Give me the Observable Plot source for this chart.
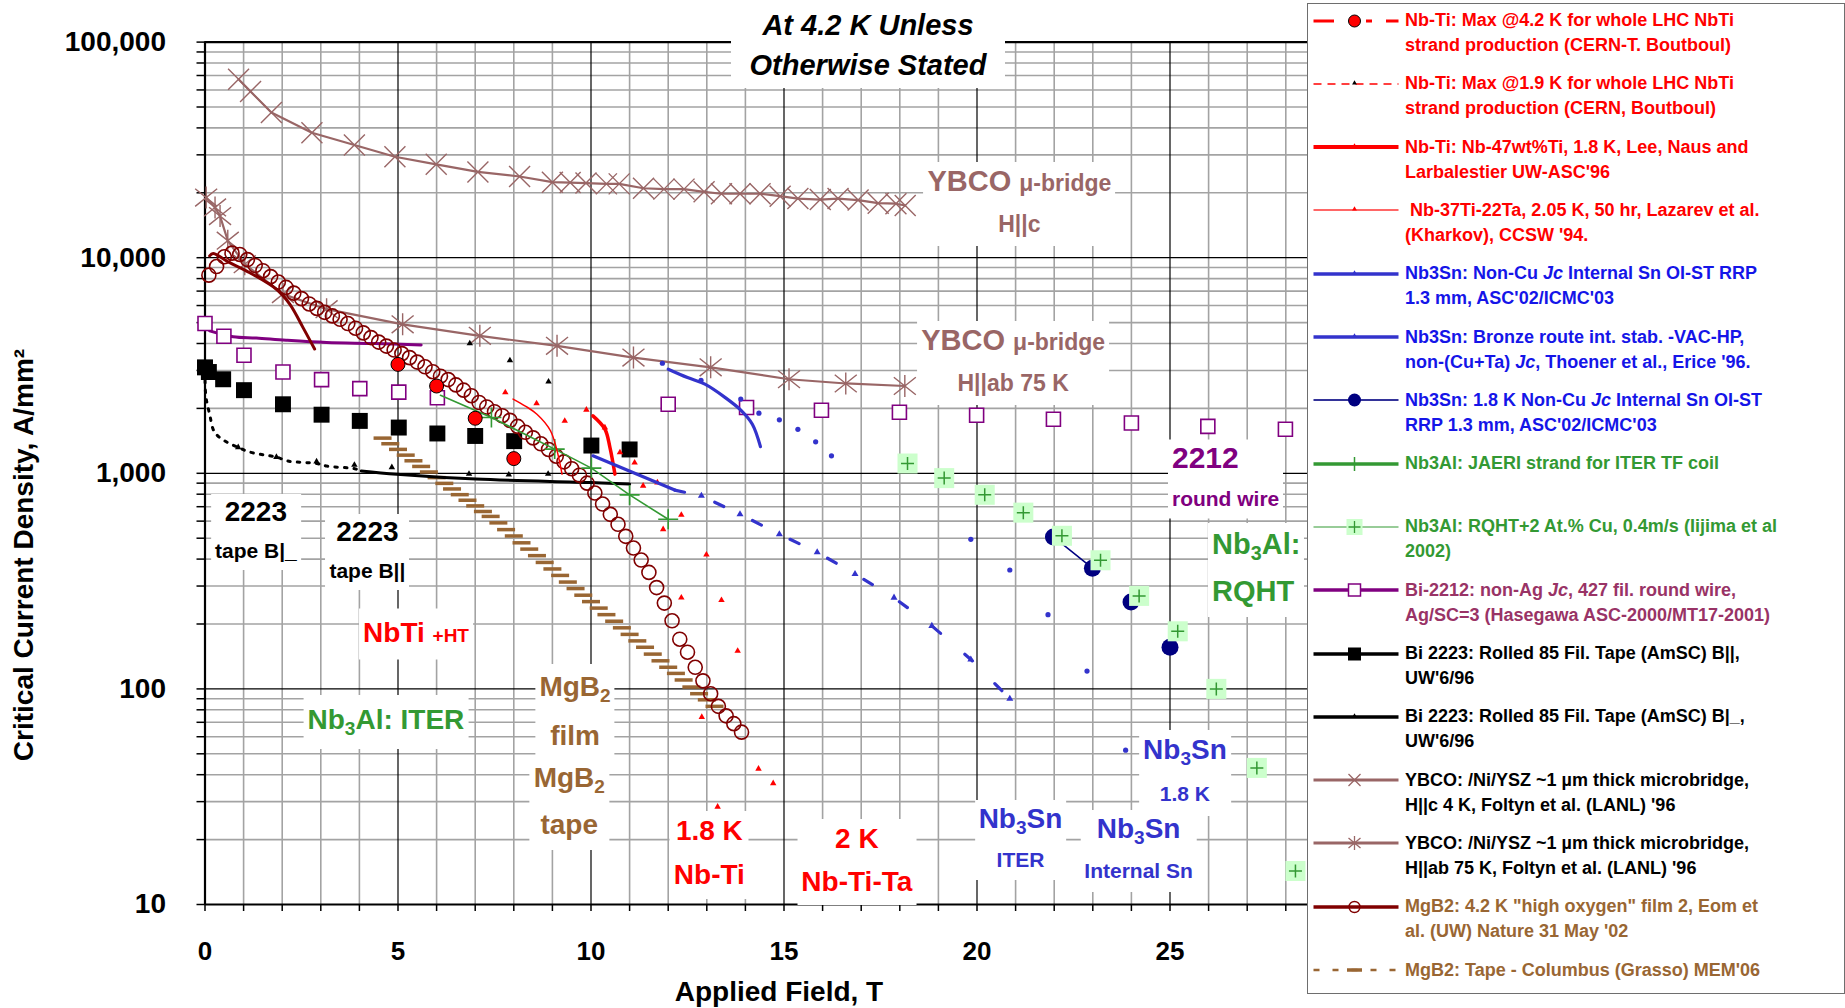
<!DOCTYPE html>
<html lang="en">
<head>
<meta charset="utf-8">
<title>Critical current density vs applied field</title>
<script src="https://cdn.jsdelivr.net/npm/d3@7"></script>
<script src="https://cdn.jsdelivr.net/npm/@observablehq/plot@0.6"></script>
<style>
  html, body { margin: 0; padding: 0; background: #fff; }
  #chart { position: relative; width: 1845px; height: 1008px; overflow: hidden;
           font-family: "Liberation Sans", Arial, Helvetica, sans-serif; }
  #chart > svg { position: absolute; left: 0; top: 0; }
  .note { position: absolute; background: #fff; font-weight: bold; white-space: nowrap;
          text-align: center; padding: 0 4px; }
  .note.left { text-align: left; }
  sub { font-size: 0.68em; vertical-align: -0.3em; line-height: 0; }
  .title { position: absolute; left: 731px; top: 0; width: 274px; height: 88px; background: #fff;
           text-align: center; font: italic bold 29px/40px "Liberation Sans", Arial, sans-serif;
           padding-top: 5px; box-sizing: border-box; }
  .ylabel { position: absolute; left: 24px; top: 555px; transform: translate(-50%, -50%) rotate(-90deg);
            font: bold 28px "Liberation Sans", Arial, sans-serif; white-space: nowrap; }
  .xlabel { position: absolute; left: 779px; top: 992px; transform: translate(-50%, -50%);
            font: bold 28px "Liberation Sans", Arial, sans-serif; white-space: nowrap; }
  .legend { position: absolute; left: 1307px; top: 3px; width: 538px; height: 991px; box-sizing: border-box;
            border: 1.5px solid #6e6e6e; background: #fff; }
  .entry-text { position: absolute; left: 97px; font: bold 18px/25px "Liberation Sans", Arial, sans-serif;
                white-space: nowrap; }
  .entry-key { position: absolute; left: 2px; width: 92px; height: 24px; overflow: visible; }
</style>
</head>
<body>
<div id="chart"></div>
<script>
// ---------------- Axis ticks ----------------
const fieldTickValues = [0, 5, 10, 15, 20, 25];
const fieldTickLabels = ["0", "5", "10", "15", "20", "25"];
const jcTickValues = [10, 100, 1000, 10000, 100000];
const jcTickLabels = ["10", "100", "1,000", "10,000", "100,000"];

// ---------------- Data (field in T, Jc in A/mm²) ----------------
// YBCO microbridge, H||c, 4 K
const ybcoCField = [0.87, 1.18, 1.72, 2.77, 3.87, 4.92, 5.99, 7.07, 8.15, 9.0, 9.46, 9.87, 10.4, 10.73, 11.36, 11.89, 12.41, 12.93, 13.38, 13.86, 14.38, 14.9, 15.36, 15.94, 16.4, 16.92, 17.44, 17.9, 18.14];
const ybcoCJc = [67300, 59000, 47100, 38000, 33300, 29400, 27100, 25000, 23800, 22400, 22300, 22200, 22000, 22000, 21000, 20800, 20800, 20200, 19800, 19800, 19800, 19300, 18800, 18600, 18800, 18500, 17900, 17800, 17460];

// YBCO microbridge, H||ab, 75 K
const ybcoAbField = [0.03, 0.26, 0.39, 0.59, 1.03, 2.02, 3.15, 5.12, 7.12, 9.12, 11.1, 13.1, 15.13, 16.6, 18.13];
const ybcoAbJc = [19000, 17100, 15600, 12000, 9330, 6780, 5770, 4910, 4340, 3900, 3440, 3100, 2730, 2610, 2540];

// MgB2 "high oxygen" film, 4.2 K (circles)
const mgb2FilmField = [0.1, 0.3, 0.5, 0.7, 0.9, 1.1, 1.3, 1.5, 1.7, 1.9, 2.1, 2.3, 2.5, 2.7, 2.9, 3.1, 3.3, 3.5, 3.7, 3.9, 4.1, 4.3, 4.5, 4.7, 4.9, 5.1, 5.3, 5.5, 5.7, 5.9, 6.1, 6.3, 6.5, 6.7, 6.9, 7.1, 7.3, 7.5, 7.7, 7.9, 8.1, 8.3, 8.5, 8.7, 8.9, 9.1, 9.3, 9.5, 9.7, 9.9, 10.1, 10.3, 10.5, 10.7, 10.9, 11.1, 11.3, 11.5, 11.7, 11.9, 12.1, 12.3, 12.5, 12.7, 12.9, 13.1, 13.3, 13.5, 13.7, 13.9];
const mgb2FilmJc = [8300, 9100, 10100, 10500, 10350, 9800, 9200, 8700, 8170, 7710, 7280, 6850, 6460, 6100, 5820, 5580, 5370, 5180, 4950, 4710, 4480, 4260, 4060, 3890, 3730, 3590, 3440, 3280, 3120, 2960, 2820, 2720, 2570, 2430, 2290, 2130, 2030, 1930, 1850, 1760, 1650, 1550, 1460, 1370, 1290, 1200, 1130, 1050, 980, 900, 810, 720, 645, 580, 510, 450, 396, 347, 295, 250, 207, 170, 148, 126, 109, 95, 83, 75, 69, 63];
// MgB2 film trace
const mgb2TraceField = [0.12, 0.21, 0.64, 1.07, 1.85, 2.2, 2.54, 2.84];
const mgb2TraceJc = [10200, 10450, 9480, 8690, 7140, 6080, 4740, 3770];

// MgB2 tape, Columbus
const mgb2TapeField = [4.6, 4.8, 5.0, 5.2, 5.4, 5.6, 5.8, 6.0, 6.2, 6.4, 6.6, 6.8, 7.0, 7.2, 7.4, 7.6, 7.8, 8.0, 8.2, 8.4, 8.6, 8.8, 9.0, 9.2, 9.4, 9.6, 9.8, 10.0, 10.2, 10.4, 10.6, 10.8, 11.0, 11.2, 11.4, 11.6, 11.8, 12.0, 12.2, 12.4, 12.6, 12.8, 13.0, 13.2];
const mgb2TapeJc = [1456, 1371, 1291, 1214, 1143, 1076, 1014, 955, 898, 846, 796, 750, 706, 665, 631, 589, 548, 512, 476, 445, 415, 386, 360, 336, 313, 292, 272, 254, 237, 221, 206, 192, 179, 167, 156, 145, 135, 126, 118, 110, 102, 95, 89, 83];

// Bi-2212 round wire
const bi2212Field = [0, 0.49, 1.01, 2.02, 3.02, 4.01, 5.02, 6.02, 12.0, 14.03, 15.97, 17.99, 19.99, 21.98, 24.0, 25.98, 27.99];
const bi2212Jc = [4950, 4320, 3530, 2950, 2720, 2470, 2380, 2240, 2090, 2020, 1960, 1920, 1860, 1780, 1710, 1650, 1600];
const bi2212TraceField = [0.12, 0.73, 1.33, 2.1, 3.15, 4.4, 5.6];
const bi2212TraceJc = [4580, 4300, 4240, 4140, 4040, 4000, 3940];

// Bi-2223 tape, B||
const bi2223ParField = [0, 0.1, 0.47, 1.01, 2.02, 3.02, 4.01, 5.02, 6.02, 7.0, 8.01, 10.01, 11.0];
const bi2223ParJc = [3100, 2950, 2730, 2430, 2090, 1870, 1750, 1630, 1530, 1490, 1410, 1345, 1290];

// Bi-2223 tape, B perpendicular
const bi2223PerpField = [0, 0.02, 0.12, 0.25, 0.55, 0.86, 1.12, 1.5, 1.85, 2.15, 2.9, 3.15, 3.88, 4.05, 4.97, 7.02, 9.99, 11.0];
const bi2223PerpJc = [3300, 2300, 1880, 1550, 1400, 1320, 1260, 1220, 1190, 1140, 1110, 1080, 1050, 1025, 990, 940, 906, 891];
const bi2223PerpMarkField = [0.86, 1.85, 2.89, 3.87, 4.84, 6.84, 7.87, 8.89];
const bi2223PerpMarkJc = [1320, 1190, 1134, 1094, 1066, 993, 986, 993];

// Nb-Ti, LHC strand production maxima
const lhc42Field = [5, 6, 7, 8];
const lhc42Jc = [3200, 2540, 1800, 1170];
const lhc19Field = [6.86, 7.9, 8.9];
const lhc19Jc = [4000, 3340, 2660];

// Nb-47wt%Ti, 1.8 K
const nbti18Field = [10.05, 10.36, 10.49, 10.62];
const nbti18Jc = [1846, 1603, 1320, 991];
const nbti18MarkField = [9.32, 10.75, 11.35, 11.87, 12.34, 12.87, 13.28];
const nbti18MarkJc = [1750, 1250, 875, 550, 265, 74, 28.4];

// Nb-37Ti-22Ta, 2.05 K
const nbtitaField = [7.98, 8.3, 8.6, 8.95, 9.25];
const nbtitaJc = [2210, 2050, 1880, 1575, 991];
const nbtitaMarkField = [7.78, 8.59, 9.88, 10.36, 11.13, 11.72, 12.34, 12.99, 13.38, 13.8, 14.34, 14.72];
const nbtitaMarkJc = [2370, 2110, 1970, 1630, 1120, 906, 641, 419, 258, 150, 42.6, 36.5];

// Nb3Sn internal Sn RRP, 4.2 K
const rrpField = [12.0, 12.5, 12.95, 13.47, 13.9, 14.18, 14.39];
const rrpJc = [3040, 2780, 2590, 2250, 1950, 1690, 1330];
const rrpMarkField = [11.85, 12.85, 13.88, 14.35, 14.88, 15.36, 15.82, 16.23, 19.84, 20.85, 21.84, 22.85, 23.85];
const rrpMarkJc = [3240, 2700, 2210, 1900, 1770, 1600, 1400, 1205, 494, 356, 221, 121, 52];

// Nb3Sn bronze route
const bronzeField = [10.05, 12.17, 12.86, 13.86, 14.88, 15.86, 16.84, 17.85, 18.83, 19.84, 20.85];
const bronzeJc = [1205, 836, 786, 646, 522, 430, 341, 265, 196, 137, 90];

// Nb3Sn internal Sn RRP, 1.8 K
const rrp18Field = [21.98, 22.99, 23.99, 25.0];
const rrp18Jc = [507, 363, 253, 156];

// Nb3Al JAERI strand
const jaeriField = [6.1, 7.42, 9.06, 10.01, 11.0, 12.0];
const jaeriJc = [2300, 1815, 1295, 1057, 794, 612];

// Nb3Al RQHT + 2 at.% Cu
const rqhtField = [18.2, 19.15, 20.2, 21.2, 22.2, 23.2, 24.2, 25.2, 26.2, 27.25, 28.25];
const rqhtJc = [1110, 950, 795, 657, 513, 395, 270, 185, 100, 43, 14.3];

// ---------------- Helpers ----------------
const pairs = (xs, ys) => xs.map((field, i) => ({field, jc: ys[i]}));
const XY = {x: "field", y: "jc"};

const C = {
  red: "#ff0000", blue: "#3333cc", navy: "#000080", green: "#339933", lightGreen: "#ccffcc",
  purple: "#800080", ybco: "#996666", darkRed: "#800000", brown: "#996633", grid: "#a3a3a3"
};

// stroke-only marker shapes
const shape = (draw) => ({draw(ctx, size) { draw(ctx, Math.sqrt(size / Math.PI)); }});
const timesSym = shape((c, r) => { c.moveTo(-r, -r); c.lineTo(r, r); c.moveTo(r, -r); c.lineTo(-r, r); });
const asteriskSym = shape((c, r) => {
  c.moveTo(-r, -r * 0.8); c.lineTo(r, r * 0.8); c.moveTo(r, -r * 0.8); c.lineTo(-r, r * 0.8);
  c.moveTo(0, -r); c.lineTo(0, r);
});
const plusSym = shape((c, r) => { c.moveTo(-r, 0); c.lineTo(r, 0); c.moveTo(0, -r); c.lineTo(0, r); });
const dashSym = shape((c, r) => { c.moveTo(-r, 0); c.lineTo(r, 0); });

const ybcoC = pairs(ybcoCField, ybcoCJc);
const ybcoAb = pairs(ybcoAbField, ybcoAbJc);
const mgb2Film = pairs(mgb2FilmField, mgb2FilmJc);
const mgb2Trace = pairs(mgb2TraceField, mgb2TraceJc);
const mgb2Tape = pairs(mgb2TapeField, mgb2TapeJc);
const bi2212 = pairs(bi2212Field, bi2212Jc);
const bi2212Trace = pairs(bi2212TraceField, bi2212TraceJc);
const bi2223Par = pairs(bi2223ParField, bi2223ParJc);
const bi2223Perp = pairs(bi2223PerpField, bi2223PerpJc);
const bi2223PerpMarks = pairs(bi2223PerpMarkField, bi2223PerpMarkJc);
const lhc42 = pairs(lhc42Field, lhc42Jc);
const lhc19 = pairs(lhc19Field, lhc19Jc);
const nbti18 = pairs(nbti18Field, nbti18Jc);
const nbti18Marks = pairs(nbti18MarkField, nbti18MarkJc);
const nbtita = pairs(nbtitaField, nbtitaJc);
const nbtitaMarks = pairs(nbtitaMarkField, nbtitaMarkJc);
const rrp = pairs(rrpField, rrpJc);
const rrpMarks = pairs(rrpMarkField, rrpMarkJc);
const bronze = pairs(bronzeField, bronzeJc);
const rrp18 = pairs(rrp18Field, rrp18Jc);
const jaeri = pairs(jaeriField, jaeriJc);
const rqht = pairs(rqhtField, rqhtJc);

const fieldMinor = d3.range(1, 31).filter(v => v % 5 !== 0);
const jcMinor = jcTickValues.slice(0, -1).flatMap(d => d3.range(2, 10).map(k => k * d));

// ---------------- Chart ----------------
const chart = Plot.plot({
  width: 1845,
  height: 1008,
  marginLeft: 204.5,
  marginRight: 482.5,
  marginTop: 41.6,
  marginBottom: 104,
  x: {domain: [0, 30], axis: null},
  y: {type: "log", domain: [10, 100000], axis: null},
  style: {fontFamily: '"Liberation Sans", Arial, sans-serif', background: "none", overflow: "visible"},
  marks: [
    // grid
    Plot.ruleX(fieldMinor, {stroke: C.grid, strokeWidth: 1.6}),
    Plot.ruleY(jcMinor, {stroke: C.grid, strokeWidth: 1.6}),
    Plot.ruleX(fieldTickValues, {stroke: "#000", strokeWidth: 1.2}),
    Plot.ruleY(jcTickValues, {stroke: "#000", strokeWidth: 1.2}),
    Plot.ruleX([0], {stroke: "#000", strokeWidth: 2.2}),
    Plot.ruleY([10, 100000], {stroke: "#000", strokeWidth: 2.2}),
    // axis ticks and labels
    Plot.axisY({ticks: [...jcMinor, ...jcTickValues], tickSize: 8, tickFormat: () => "", label: null, strokeWidth: 1.5}),
    Plot.axisX({ticks: d3.range(0, 29), tickSize: 7, tickFormat: () => "", label: null, strokeWidth: 1.5}),
    Plot.text(jcTickValues, {x: 0, y: d => d, text: (d, i) => jcTickLabels[i], dx: -39, textAnchor: "end", fontSize: 28, fontWeight: "bold", fill: "#000"}),
    Plot.text(fieldTickValues, {x: d => d, y: 10, text: (d, i) => fieldTickLabels[i], dy: 47, fontSize: 26, fontWeight: "bold", fill: "#000"}),

    // Bi-2212
    Plot.line(bi2212Trace, {...XY, stroke: C.purple, strokeWidth: 3, curve: "catmull-rom"}),
    // YBCO
    Plot.line(ybcoC, {...XY, stroke: C.ybco, strokeWidth: 2.2}),
    Plot.line(ybcoAb, {...XY, stroke: C.ybco, strokeWidth: 2.2}),
    Plot.dot(ybcoC, {...XY, symbol: timesSym, r: 10.5, stroke: C.ybco, strokeWidth: 1.4, fill: "none"}),
    Plot.dot(ybcoAb, {...XY, symbol: asteriskSym, r: 11, stroke: C.ybco, strokeWidth: 1.4, fill: "none"}),
    // MgB2 tape
    Plot.dot(mgb2Tape, {...XY, symbol: dashSym, r: 9, stroke: C.brown, strokeWidth: 3.5, fill: "none"}),
    // Bi-2223 B perpendicular
    Plot.line(bi2223Perp.filter(d => d.field <= 4.05), {...XY, stroke: "#000", strokeWidth: 3, strokeDasharray: "2.5,7", curve: "catmull-rom"}),
    Plot.line(bi2223Perp.filter(d => d.field >= 4.05), {...XY, stroke: "#000", strokeWidth: 3, curve: "catmull-rom"}),
    Plot.dot(bi2223PerpMarks, {...XY, symbol: "triangle", r: 2.4, fill: "#000"}),
    // Bi-2212 squares, Bi-2223 B|| squares
    Plot.dot(bi2212, {...XY, symbol: "square", r: 7.9, fill: "#fff", stroke: C.purple, strokeWidth: 1.6}),
    Plot.dot(bi2223Par, {...XY, symbol: "square", r: 9, fill: "#000"}),
    // MgB2 film
    Plot.line(mgb2Trace, {...XY, stroke: C.darkRed, strokeWidth: 3, curve: "catmull-rom"}),
    Plot.dot(mgb2Film, {...XY, r: 7, stroke: C.darkRed, strokeWidth: 1.6, fill: "none"}),
    // Nb3Al JAERI
    Plot.line(jaeri, {...XY, stroke: C.green, strokeWidth: 1.6}),
    Plot.dot(jaeri.slice(1), {...XY, symbol: plusSym, r: 10, stroke: C.green, strokeWidth: 1.6, fill: "none"}),
    // Nb-Ti
    Plot.line(nbtita, {...XY, stroke: C.red, strokeWidth: 1.5, curve: "catmull-rom"}),
    Plot.line(nbti18, {...XY, stroke: C.red, strokeWidth: 3.5, curve: "catmull-rom"}),
    Plot.dot(nbtitaMarks, {...XY, symbol: "triangle", r: 2.4, fill: C.red}),
    Plot.dot(nbti18Marks, {...XY, symbol: "triangle", r: 2.4, fill: C.red}),
    Plot.dot(lhc19, {...XY, symbol: "triangle", r: 2.4, fill: "#000"}),
    Plot.dot(lhc42, {...XY, r: 7, fill: C.red, stroke: "#000", strokeWidth: 1}),
    // Nb3Sn
    Plot.line(rrp, {...XY, stroke: C.blue, strokeWidth: 3.2, curve: "catmull-rom"}),
    Plot.dot(rrpMarks, {...XY, r: 2.6, fill: C.blue}),
    Plot.line(bronze.slice(0, 2), {...XY, stroke: C.blue, strokeWidth: 3.2}),
    Plot.line(bronze.slice(1), {...XY, stroke: C.blue, strokeWidth: 3.2, strokeDasharray: "10,32"}),
    Plot.dot(bronze.slice(2), {...XY, symbol: "triangle", r: 2.6, fill: C.blue}),
    Plot.line(rrp18.slice(0, 2), {...XY, stroke: C.navy, strokeWidth: 1.5}),
    Plot.dot(rrp18, {...XY, r: 8.5, fill: C.navy}),
    // Nb3Al RQHT
    Plot.dot(rqht, {...XY, symbol: "square", r: 11.3, fill: C.lightGreen}),
    Plot.dot(rqht, {...XY, symbol: plusSym, r: 6.5, stroke: C.green, strokeWidth: 1.5, fill: "none"})
  ]
});

const root = document.getElementById("chart");
root.appendChild(chart);

// ---------------- Annotations ----------------
const t = (text, size) => `<span style="font-size:${size}px">${text}</span>`;
const notes = [
  {x: 21.11, y: 17650, color: C.ybco, lh: 39, lines: [t("YBCO ", 29) + t("μ-bridge", 23), t("H||c", 23)]},
  {x: 20.95, y: 3230, color: C.ybco, lh: 38, lines: [t("YBCO ", 29) + t("μ-bridge", 23), t("H||ab 75 K", 23)]},
  {x: 24.96, y: 935, color: C.purple, lh: 36, anchor: "start", lines: [t("2212", 30), t("round wire", 21)]},
  {x: 26.0, y: 354, color: C.green, lh: 43, anchor: "start", lines: [t("Nb<sub>3</sub>Al:", 29), t("RQHT", 29)]},
  {x: 25.4, y: 40.5, color: C.blue, lh: 40, lines: [t("Nb<sub>3</sub>Sn", 28), t("1.8 K", 21)]},
  {x: 21.14, y: 19.9, color: C.blue, lh: 37, lines: [t("Nb<sub>3</sub>Sn", 28), t("ITER", 21)]},
  {x: 24.2, y: 17.6, color: C.blue, lh: 38, lines: [t("Nb<sub>3</sub>Sn", 28), t("Internal Sn", 21)]},
  {x: 16.9, y: 15.7, color: C.red, lh: 39, lines: [t("2 K", 28), t("Nb-Ti-Ta", 28)]},
  {x: 13.08, y: 16.9, color: C.red, lh: 40, lines: [t("1.8 K", 28), t("Nb-Ti", 28)]},
  {x: 9.6, y: 77.3, color: C.brown, lh: 45, lines: [t("MgB<sub>2</sub>", 28), t("film", 28)]},
  {x: 9.45, y: 29.3, color: C.brown, lh: 43, lines: [t("MgB<sub>2</sub>", 28), t("tape", 28)]},
  {x: 4.70, y: 69.8, color: C.green, lh: 50, lines: [t("Nb<sub>3</sub>Al: ITER", 28)]},
  {x: 5.48, y: 178.6, color: C.red, lh: 47, lines: [t("NbTi ", 28) + t("+HT", 19)]},
  {x: 1.33, y: 531, color: "#000", lh: 35, lines: [t("2223", 28), t("tape B|_", 21)]},
  {x: 4.22, y: 431, color: "#000", lh: 35, lines: [t("2223", 28), t("tape B||", 21)]}
];
const sx = chart.scale("x"), sy = chart.scale("y");
for (const n of notes) {
  const el = document.createElement("div");
  el.className = "note" + (n.anchor === "start" ? " left" : "");
  el.style.color = n.color;
  el.style.left = sx.apply(n.x) + "px";
  el.style.top = sy.apply(n.y) + "px";
  el.style.transform = n.anchor === "start" ? "translate(0,-50%)" : "translate(-50%,-50%)";
  el.innerHTML = n.lines.map(l => `<div style="line-height:${n.lh}px">${l}</div>`).join("");
  root.appendChild(el);
}

// ---------------- Titles ----------------
const title = document.createElement("div");
title.className = "title";
title.innerHTML = "<div>At 4.2 K Unless</div><div>Otherwise Stated</div>";
root.appendChild(title);

const ylab = document.createElement("div");
ylab.className = "ylabel";
ylab.textContent = "Critical Current Density, A/mm²";
root.appendChild(ylab);

const xlab = document.createElement("div");
xlab.className = "xlabel";
xlab.textContent = "Applied Field, T";
root.appendChild(xlab);

// ---------------- Legend ----------------
const keyLine = (c, w, dash) => `<path d="M3.5,12H88.5" stroke="${c}" stroke-width="${w}" fill="none"${dash ? ` stroke-dasharray="${dash}"` : ""}/>`;
const tinyTri = c => `<path d="M44.5,8.3l2.4,4.2h-4.8z" fill="${c}"/>`;
const legendBlue = "#1515e8";
const legendItems = [
  {color: C.red, lines: ["Nb-Ti: Max @4.2 K for whole LHC NbTi", "strand production (CERN-T. Boutboul)"],
   key: `<path d="M3.5,12H24M56,12H62M76,12H88.5" stroke="${C.red}" stroke-width="3"/><circle cx="44.5" cy="12" r="6" fill="${C.red}" stroke="#000" stroke-width="1"/>`},
  {color: C.red, lines: ["Nb-Ti: Max @1.9 K for whole LHC NbTi", "strand production (CERN, Boutboul)"],
   key: keyLine(C.red, 1.5, "8,6") + tinyTri("#000")},
  {color: C.red, lines: ["Nb-Ti: Nb-47wt%Ti, 1.8 K, Lee, Naus and", "Larbalestier UW-ASC'96"],
   key: keyLine(C.red, 4) + tinyTri(C.red)},
  {color: C.red, lines: ["&nbsp;Nb-37Ti-22Ta, 2.05 K, 50 hr, Lazarev et al.", "(Kharkov), CCSW '94."],
   key: keyLine("#ff3333", 1.5) + tinyTri(C.red)},
  {color: legendBlue, lines: ["Nb3Sn: Non-Cu <i>Jc</i> Internal Sn OI-ST RRP", "1.3 mm, ASC'02/ICMC'03"],
   key: keyLine(C.blue, 3.5) + tinyTri(C.blue)},
  {color: legendBlue, lines: ["Nb3Sn: Bronze route int. stab. -VAC-HP,", "non-(Cu+Ta) <i>Jc</i>, Thoener et al., Erice '96."],
   key: keyLine(C.blue, 3.5) + tinyTri(C.blue)},
  {color: legendBlue, lines: ["Nb3Sn: 1.8 K Non-Cu <i>Jc</i> Internal Sn OI-ST", "RRP 1.3 mm, ASC'02/ICMC'03"],
   key: keyLine("#333399", 2) + `<circle cx="44.5" cy="12" r="6.5" fill="${C.navy}"/>`},
  {color: C.green, lines: ["Nb3Al: JAERI strand for ITER TF coil"],
   key: keyLine(C.green, 3.5) + `<path d="M44.5,5V19" stroke="${C.green}" stroke-width="1.5"/>`},
  {color: C.green, lines: ["Nb3Al: RQHT+2 At.% Cu, 0.4m/s (Iijima et al", "2002)"],
   key: keyLine(C.green, 1.2) + `<rect x="36.5" y="4" width="16" height="16" fill="${C.lightGreen}"/><path d="M38.5,12H50.5M44.5,6V18" stroke="${C.green}" stroke-width="1.3"/>`},
  {color: "#993366", lines: ["Bi-2212: non-Ag <i>Jc</i>, 427 fil. round wire,", "Ag/SC=3 (Hasegawa ASC-2000/MT17-2001)"],
   key: keyLine(C.purple, 3.5) + `<rect x="38.5" y="6" width="12" height="12" fill="#fff" stroke="${C.purple}" stroke-width="1.5"/>`},
  {color: "#000", lines: ["Bi 2223: Rolled 85 Fil. Tape (AmSC) B||,", "UW'6/96"],
   key: keyLine("#000", 3.5) + `<rect x="38" y="5.5" width="13" height="13" fill="#000"/>`},
  {color: "#000", lines: ["Bi 2223: Rolled 85 Fil. Tape (AmSC) B|_,", "UW'6/96"],
   key: keyLine("#000", 3.5) + tinyTri("#000")},
  {color: "#000", lines: ["YBCO: /Ni/YSZ ~1 µm thick microbridge,", "H||c 4 K, Foltyn et al. (LANL) '96"],
   key: keyLine(C.ybco, 3) + `<path d="M38.5,6L50.5,18M50.5,6L38.5,18" stroke="${C.ybco}" stroke-width="1.3"/>`},
  {color: "#000", lines: ["YBCO: /Ni/YSZ ~1 µm thick microbridge,", "H||ab 75 K, Foltyn et al. (LANL) '96"],
   key: keyLine(C.ybco, 3) + `<path d="M38.5,7L50.5,17M50.5,7L38.5,17M44.5,5V19" stroke="${C.ybco}" stroke-width="1.3"/>`},
  {color: C.brown, lines: ["MgB2: 4.2 K \"high oxygen\" film 2, Eom et", "al. (UW) Nature 31 May '02"],
   key: keyLine(C.darkRed, 3.5) + `<circle cx="44.5" cy="12" r="5.5" fill="none" stroke="${C.darkRed}" stroke-width="1.4"/>`},
  {color: C.brown, lines: ["MgB2: Tape - Columbus (Grasso) MEM'06"],
   key: keyLine(C.brown, 2.5, "6,13") + `<path d="M37,12H52" stroke="${C.brown}" stroke-width="3.5"/>`}
];

const legend = document.createElement("div");
legend.className = "legend";
legendItems.forEach((item, i) => {
  const center = 21 + 63.3 * i - 4.5;
  const key = document.createElement("div");
  key.className = "entry-key";
  key.style.top = (center - 12) + "px";
  key.innerHTML = `<svg width="92" height="24" viewBox="0 0 92 24" style="overflow:visible">${item.key}</svg>`;
  legend.appendChild(key);
  const text = document.createElement("div");
  text.className = "entry-text";
  text.style.top = (center - 12.5) + "px";
  text.style.color = item.color;
  text.innerHTML = item.lines.join("<br>");
  legend.appendChild(text);
});
root.appendChild(legend);
</script>
</body>
</html>
